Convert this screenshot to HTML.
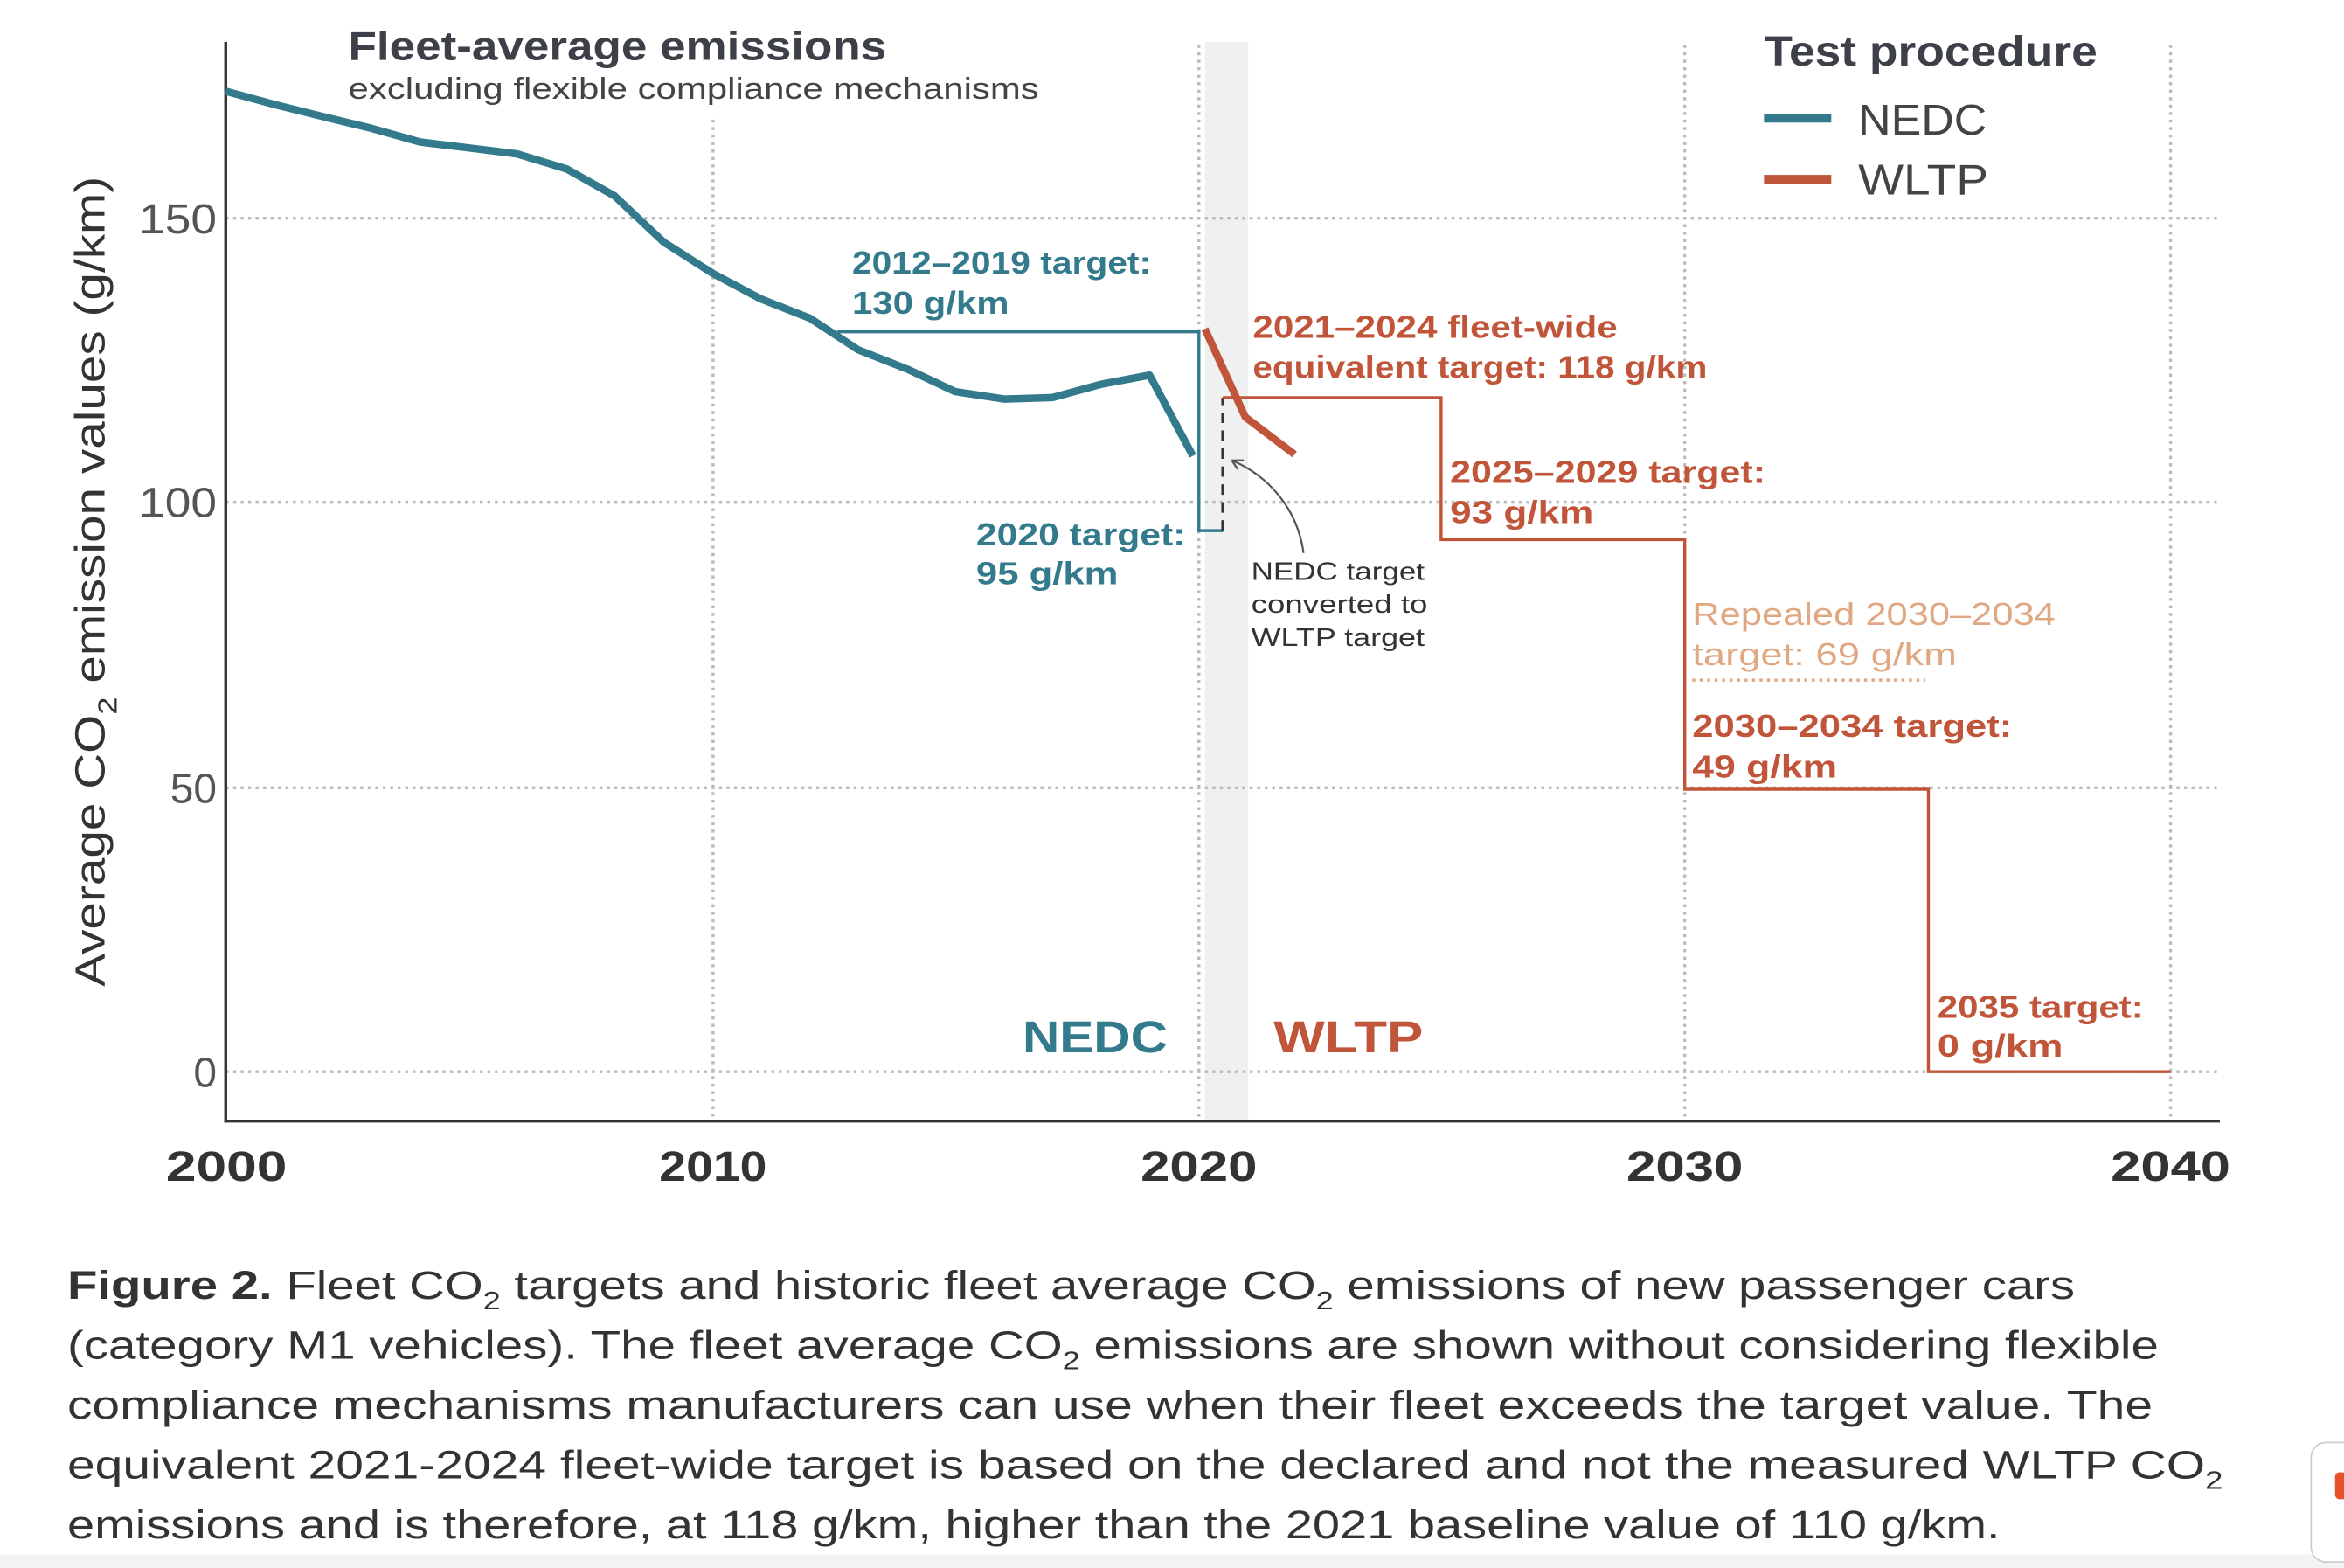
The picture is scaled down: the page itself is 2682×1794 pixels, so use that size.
<!DOCTYPE html>
<html><head><meta charset="utf-8"><style>
html,body{margin:0;padding:0;background:#fff;}
svg{display:block;}
text{font-family:"Liberation Sans","DejaVu Sans",sans-serif;}
</style></head><body>
<svg width="2682" height="1794" viewBox="0 0 1568 1049" preserveAspectRatio="none" xmlns="http://www.w3.org/2000/svg">
<rect width="1568" height="1049" fill="#fff"/>
<rect x="0" y="1040" width="1568" height="9" fill="#f3f3f3"/>
<rect x="806" y="28" width="29" height="722" fill="#eff0f0"/>
<g stroke="#bbb" stroke-width="2" stroke-dasharray="2,3" fill="none">
<line x1="151" y1="146" x2="1484" y2="146"/>
<line x1="151" y1="336" x2="1484" y2="336"/>
<line x1="151" y1="527" x2="1484" y2="527"/>
<line x1="151" y1="717" x2="1484" y2="717"/>
<line x1="477" y1="80" x2="477" y2="750"/>
<line x1="802" y1="30" x2="802" y2="750"/>
<line x1="1127" y1="30" x2="1127" y2="750"/>
<line x1="1452" y1="30" x2="1452" y2="750"/>
</g>
<line x1="151" y1="28" x2="151" y2="751" stroke="#333" stroke-width="2"/>
<line x1="150" y1="750" x2="1485" y2="750" stroke="#333" stroke-width="2"/>
<g fill="#555" font-size="28" text-anchor="end">
<text x="145" y="156" textLength="52" lengthAdjust="spacingAndGlyphs">150</text><text x="145" y="346" textLength="52" lengthAdjust="spacingAndGlyphs">100</text><text x="145" y="537">50</text><text x="145" y="727">0</text>
</g>
<g fill="#333" font-size="28" font-weight="bold">
<text x="111" y="790" textLength="81" lengthAdjust="spacingAndGlyphs">2000</text><text x="441" y="790" textLength="72" lengthAdjust="spacingAndGlyphs">2010</text><text x="763" y="790" textLength="78" lengthAdjust="spacingAndGlyphs">2020</text><text x="1088" y="790" textLength="78" lengthAdjust="spacingAndGlyphs">2030</text><text x="1412" y="790" textLength="80" lengthAdjust="spacingAndGlyphs">2040</text>
</g>
<text transform="translate(70,660) rotate(-90)" fill="#333" font-size="28" textLength="542" lengthAdjust="spacingAndGlyphs">Average CO<tspan font-size="18" dy="8">2</tspan><tspan dy="-8"> emission values (g/km)</tspan></text>
<text x="233" y="40" fill="#3d4048" font-size="27" font-weight="bold" textLength="360" lengthAdjust="spacingAndGlyphs">Fleet-average emissions</text>
<text x="233" y="66" fill="#444" font-size="20" textLength="462" lengthAdjust="spacingAndGlyphs">excluding flexible compliance mechanisms</text>
<text x="1180" y="44" fill="#3d4048" font-size="28" font-weight="bold" textLength="223" lengthAdjust="spacingAndGlyphs">Test procedure</text>
<rect x="1180" y="76" width="45" height="6" fill="#327a8c"/>
<rect x="1180" y="117" width="45" height="6" fill="#c0553a"/>
<text x="1243" y="90" fill="#444" font-size="29" textLength="86" lengthAdjust="spacingAndGlyphs">NEDC</text>
<text x="1243" y="130" fill="#444" font-size="29" textLength="87" lengthAdjust="spacingAndGlyphs">WLTP</text>
<polyline points="560,222 802,222 802,355 818,355" fill="none" stroke="#327a8c" stroke-width="2"/>
<line x1="818" y1="355" x2="818" y2="266" stroke="#333" stroke-width="2" stroke-dasharray="7,5"/>
<polyline points="818,266 964,266 964,361 1127,361 1127,528 1290,528 1290,717 1452,717" fill="none" stroke="#c0553a" stroke-width="2"/>
<line x1="1132" y1="455" x2="1288" y2="455" stroke="#e0a882" stroke-width="2" stroke-dasharray="2,3"/>
<polyline points="151,61 184,70 216,78 249,86 281,95 314,99 346,103 379,113 411,131 444,162 477,183 509,200 542,213 574,234 607,247 639,262 672,267 704,266 737,257 769,251 798,305" fill="none" stroke="#327a8c" stroke-width="5" stroke-linejoin="round"/>
<polyline points="806,220 833,279 866,304" fill="none" stroke="#c0553a" stroke-width="5" stroke-linejoin="round"/>
<path d="M872,370 C868,340 848,318 824,308" fill="none" stroke="#555" stroke-width="1.3"/>
<path d="M824,308 l8,0 M824,308 l4,6" stroke="#555" stroke-width="1.3"/>
<g fill="#327a8c" font-size="21" font-weight="bold">
<text x="570" y="183" textLength="200" lengthAdjust="spacingAndGlyphs">2012–2019 target:</text><text x="570" y="210" textLength="105" lengthAdjust="spacingAndGlyphs">130 g/km</text>
<text x="653" y="365" textLength="140" lengthAdjust="spacingAndGlyphs">2020 target:</text><text x="653" y="391" textLength="95" lengthAdjust="spacingAndGlyphs">95 g/km</text>
<text x="684" y="704" font-size="30" textLength="97" lengthAdjust="spacingAndGlyphs">NEDC</text>
</g>
<g fill="#c0553a" font-size="21" font-weight="bold">
<text x="838" y="226" textLength="244" lengthAdjust="spacingAndGlyphs">2021–2024 fleet-wide</text><text x="838" y="253" textLength="304" lengthAdjust="spacingAndGlyphs">equivalent target: 118 g/km</text>
<text x="970" y="323" textLength="211" lengthAdjust="spacingAndGlyphs">2025–2029 target:</text><text x="970" y="350" textLength="96" lengthAdjust="spacingAndGlyphs">93 g/km</text>
<text x="1132" y="493" textLength="214" lengthAdjust="spacingAndGlyphs">2030–2034 target:</text><text x="1132" y="520" textLength="97" lengthAdjust="spacingAndGlyphs">49 g/km</text>
<text x="1296" y="681" textLength="138" lengthAdjust="spacingAndGlyphs">2035 target:</text><text x="1296" y="707" textLength="84" lengthAdjust="spacingAndGlyphs">0 g/km</text>
<text x="852" y="704" font-size="30" textLength="100" lengthAdjust="spacingAndGlyphs">WLTP</text>
</g>
<g fill="#e0a882" font-size="21"><text x="1132" y="418" textLength="243" lengthAdjust="spacingAndGlyphs">Repealed 2030–2034</text><text x="1132" y="445" textLength="177" lengthAdjust="spacingAndGlyphs">target: 69 g/km</text></g>
<g fill="#333" font-size="17"><text x="837" y="388" textLength="116" lengthAdjust="spacingAndGlyphs">NEDC target</text><text x="837" y="410" textLength="118" lengthAdjust="spacingAndGlyphs">converted to</text><text x="837" y="432" textLength="116" lengthAdjust="spacingAndGlyphs">WLTP target</text></g>
<g fill="#333" font-size="26.5">
<text x="45" y="869" textLength="1343" lengthAdjust="spacingAndGlyphs"><tspan font-weight="bold">Figure 2.</tspan> Fleet CO<tspan font-size="17" dy="7">2</tspan><tspan dy="-7"> targets and historic fleet average CO</tspan><tspan font-size="17" dy="7">2</tspan><tspan dy="-7"> emissions of new passenger cars</tspan></text>
<text x="45" y="909" textLength="1399" lengthAdjust="spacingAndGlyphs">(category M1 vehicles). The fleet average CO<tspan font-size="17" dy="7">2</tspan><tspan dy="-7"> emissions are shown without considering flexible</tspan></text>
<text x="45" y="949" textLength="1395" lengthAdjust="spacingAndGlyphs">compliance mechanisms manufacturers can use when their fleet exceeds the target value. The</text>
<text x="45" y="989" textLength="1442" lengthAdjust="spacingAndGlyphs">equivalent 2021-2024 fleet-wide target is based on the declared and not the measured WLTP CO<tspan font-size="17" dy="7">2</tspan></text>
<text x="45" y="1029" textLength="1293" lengthAdjust="spacingAndGlyphs">emissions and is therefore, at 118 g/km, higher than the 2021 baseline value of 110 g/km.</text>
</g>
<rect x="1546" y="965" width="40" height="80" rx="10" fill="#fff" stroke="#ccc"/>
<rect x="1562" y="985" width="8" height="18" rx="3" fill="#e8502a"/>
</svg>
</body></html>
